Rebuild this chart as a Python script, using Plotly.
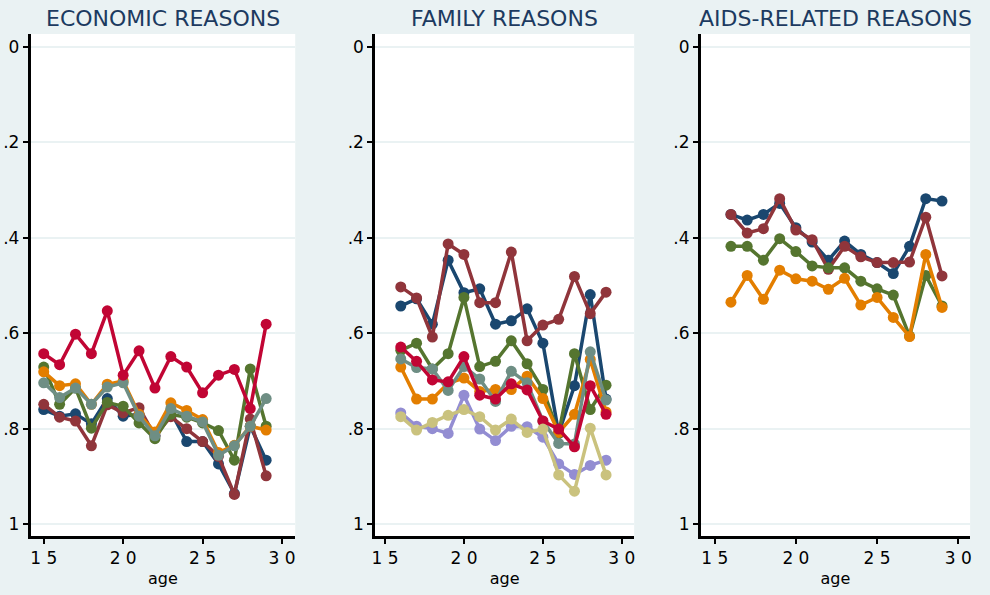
import plotly.graph_objects as go

# ---------------- data ----------------
ages_econ = list(range(15, 30))
ages_fam = list(range(16, 30))
ages_aids = list(range(16, 30))

econ_navy = [.760, .774, .769, .790, .737, .774, .770, .815, .765, .827, .827, .874, .936, .795, .866]
econ_maroon = [.749, .776, .784, .836, .750, .767, .756, .815, .775, .800, .827, .858, .938, .780, .899]
econ_green = [.671, .749, .715, .799, .745, .753, .788, .821, .770, .776, .788, .804, .866, .675, .795]
econ_orange = [.681, .710, .706, .749, .707, .700, .770, .807, .746, .762, .781, .850, .835, .795, .803]
econ_teal = [.704, .735, .715, .749, .713, .704, .774, .815, .758, .774, .786, .856, .836, .795, .737]
econ_cran = [.643, .666, .602, .643, .553, .688, .637, .715, .649, .671, .725, .688, .676, .758, .581]

fam_navy = [.543, .528, .581, .447, .515, .507, .581, .574, .549, .621, .810, .710, .519, .738]
fam_maroon = [.503, .526, .608, .413, .435, .536, .536, .430, .616, .583, .571, .481, .559, .514]
fam_green = [.636, .621, .675, .643, .525, .670, .659, .616, .664, .718, .810, .643, .760, .709]
fam_orange = [.671, .738, .738, .705, .694, .722, .718, .718, .690, .737, .808, .770, .655, .765]
fam_teal = [.654, .672, .675, .720, .670, .696, .743, .680, .704, .784, .831, .832, .639, .740]
fam_cran = [.629, .659, .698, .702, .649, .730, .738, .706, .719, .784, .801, .838, .710, .770]
fam_lav = [.767, .795, .800, .810, .730, .801, .825, .795, .796, .818, .874, .896, .877, .866]
fam_khaki = [.775, .803, .787, .772, .760, .775, .803, .780, .808, .801, .897, .931, .799, .897]

aids_navy = [.351, .363, .351, .328, .379, .409, .447, .407, .435, .452, .475, .418, .318, .323]
aids_maroon = [.351, .390, .381, .318, .384, .404, .466, .418, .440, .452, .452, .451, .357, .480]
aids_green = [.418, .418, .447, .402, .429, .459, .463, .463, .491, .507, .520, .606, .479, .543]
aids_orange = [.535, .479, .529, .468, .486, .491, .508, .485, .541, .525, .567, .607, .435, .546]

panel_titles = ["ECONOMIC REASONS", "FAMILY REASONS", "AIDS-RELATED REASONS"]
y_tickvals = [0, .2, .4, .6, .8, 1]
y_ticktext = ["0", ".2", ".4", ".6", ".8", "1"]
x_tickvals = [15, 20, 25, 30]
x_ticktext = ["1 5", "2 0", "2 5", "3 0"]

# ---------------- style ----------------
C = {
    "navy": "#1a476f", "maroon": "#90353b", "green": "#55752f", "orange": "#e37e00",
    "teal": "#6e8e84", "cran": "#c10534", "lav": "#938dd2", "khaki": "#cac27e",
}
BG = "#eaf2f3"
FONT = "DejaVu Sans"

panels = [
    (ages_econ, [("navy", econ_navy), ("maroon", econ_maroon), ("green", econ_green),
                 ("orange", econ_orange), ("teal", econ_teal), ("cran", econ_cran)]),
    (ages_fam, [("navy", fam_navy), ("maroon", fam_maroon), ("green", fam_green),
                ("orange", fam_orange), ("teal", fam_teal), ("cran", fam_cran),
                ("lav", fam_lav), ("khaki", fam_khaki)]),
    (ages_aids, [("navy", aids_navy), ("maroon", aids_maroon), ("green", aids_green),
                 ("orange", aids_orange)]),
]

W, H = 990, 595
xdoms_px = [(26.7, 293), (373.3, 634), (701, 972)]
xranges = [(14.17, 30.83), (14.37, 30.78), (14.14, 30.73)]
ydom = [1 - 536 / H, 1 - 34 / H]

fig = go.Figure()
for i, (ages, series) in enumerate(panels):
    sfx = "" if i == 0 else str(i + 1)
    for cname, vals in series:
        fig.add_trace(go.Scatter(
            x=ages, y=vals, mode="lines+markers",
            line=dict(color=C[cname], width=3.5),
            marker=dict(color=C[cname], size=11),
            xaxis="x" + sfx, yaxis="y" + sfx, showlegend=False,
        ))

layout = dict(
    width=W, height=H, paper_bgcolor=BG, plot_bgcolor="white",
    margin=dict(l=0, r=0, t=0, b=0),
    font=dict(family=FONT, color="black", size=16),
    annotations=[],
)
for i in range(3):
    sfx = "" if i == 0 else str(i + 1)
    x0, x1 = xdoms_px[i]
    layout["xaxis" + sfx] = dict(
        domain=[x0 / W, x1 / W], range=list(xranges[i]), anchor="y" + sfx,
        tickvals=x_tickvals, ticktext=x_ticktext, ticks="outside", ticklen=5,
        tickwidth=2, tickcolor="black", showline=True, linecolor="black", linewidth=2.5,
        showgrid=False, zeroline=False, tickfont=dict(size=17, family=FONT),
        title=dict(text="age", font=dict(size=16, family=FONT), standoff=6),
    )
    layout["yaxis" + sfx] = dict(
        domain=ydom, range=[1.025, -0.027], anchor="x" + sfx,
        tickvals=y_tickvals, ticktext=y_ticktext, ticks="outside", ticklen=5,
        tickwidth=2, tickcolor="black", showline=True, linecolor="black", linewidth=2.5,
        showgrid=True, gridcolor=BG, gridwidth=2, zeroline=False,
        tickfont=dict(size=17, family=FONT),
    )
    layout["annotations"].append(dict(
        text=panel_titles[i], x=(x0 + x1) / 2 / W, y=1 - 18 / H, xref="paper", yref="paper",
        xanchor="center", yanchor="middle", showarrow=False,
        font=dict(size=22, family=FONT, color="#1c3a60"),
    ))

fig.update_layout(**layout)
fig.write_html("out.html", config={"displayModeBar": False},
               post_script="document.body.style.margin='0';document.body.style.overflow='hidden';")
